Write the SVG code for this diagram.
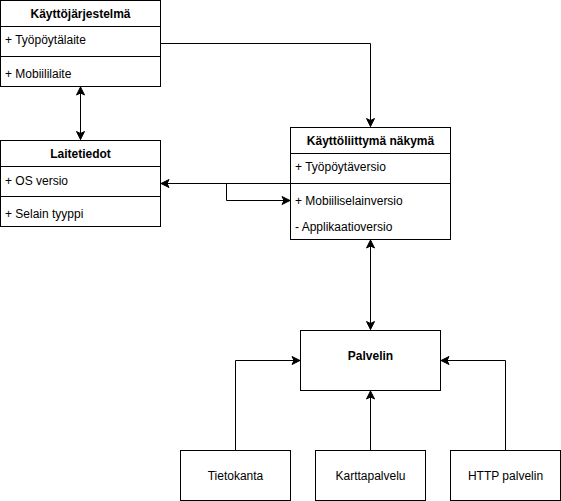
<svg xmlns="http://www.w3.org/2000/svg" width="561" height="501" viewBox="0 0 561 501">
<style>
.box{fill:#fff;stroke:#000;stroke-width:1}
.ln{fill:none;stroke:#000;stroke-width:1}
.t{font-family:"Liberation Sans",Arial,sans-serif;font-size:12px;fill:#000}
.b{font-weight:bold;text-anchor:middle}
.c{text-anchor:middle}
.e{fill:none;stroke:#000;stroke-width:1}
</style>
<defs>
<marker id="a" viewBox="-1 -5 11 10" refX="8" refY="0" markerWidth="11" markerHeight="10" markerUnits="userSpaceOnUse" orient="auto-start-reverse">
<path d="M0,-4 L8,0 L0,4 L2,0 Z" fill="#000" stroke="#000" stroke-width="1"/>
</marker>
</defs>
<rect width="561" height="501" fill="#fff"/>
<g id="connectors">
<path class="e" d="M80.5,87 V139.5" marker-start="url(#a)" marker-end="url(#a)"/>
<path class="e" d="M160.5,43.5 H370.5 V126.5" marker-end="url(#a)"/>
<path class="e" d="M290.5,183.5 H161" marker-end="url(#a)"/>
<path class="e" d="M160.5,183.5 H226.5 V200.5 H290" marker-end="url(#a)"/>
<path class="e" d="M370.5,240 V329.5" marker-start="url(#a)" marker-end="url(#a)"/>
<path class="e" d="M235.5,450 V360.5 H300" marker-end="url(#a)"/>
<path class="e" d="M370.5,450 V391" marker-end="url(#a)"/>
<path class="e" d="M505.5,450 V360.5 H441" marker-end="url(#a)"/>
</g>
<g id="kayttojarjestelma">
<rect class="box" x="0.5" y="0.5" width="160" height="86"/>
<path class="ln" d="M0.5,26.5 H160.5 M0.5,56.5 H160.5"/>
<text class="t b" x="80.5" y="17.5">Käyttöjärjestelmä</text>
<text class="t" x="5" y="44">+ Työpöytälaite</text>
<text class="t" x="5" y="78">+ Mobiililaite</text>
</g>
<g id="laitetiedot">
<rect class="box" x="0.5" y="140.5" width="160" height="86"/>
<path class="ln" d="M0.5,166.5 H160.5 M0.5,196.5 H160.5"/>
<text class="t b" x="80.5" y="158">Laitetiedot</text>
<text class="t" x="5" y="185">+ OS versio</text>
<text class="t" x="5" y="218">+ Selain tyyppi</text>
</g>
<g id="kayttoliittyma">
<rect class="box" x="290.5" y="127.5" width="160" height="112"/>
<path class="ln" d="M290.5,153.5 H450.5 M290.5,183.5 H450.5"/>
<text class="t b" x="370.5" y="145">Käyttöliittymä näkymä</text>
<text class="t" x="295" y="171">+ Työpöytäversio</text>
<text class="t" x="295" y="205">+ Mobiiliselainversio</text>
<text class="t" x="295" y="231">- Applikaatioversio</text>
</g>
<g id="palvelin">
<rect class="box" x="300.5" y="330.5" width="140" height="60"/>
<text class="t b" x="370.5" y="360">Palvelin</text>
</g>
<g id="tietokanta">
<rect class="box" x="180.5" y="450.5" width="110" height="50"/>
<text class="t c" x="235.5" y="480">Tietokanta</text>
</g>
<g id="karttapalvelu">
<rect class="box" x="315.5" y="450.5" width="110" height="50"/>
<text class="t c" x="370.5" y="480">Karttapalvelu</text>
</g>
<g id="http">
<rect class="box" x="450.5" y="450.5" width="110" height="50"/>
<text class="t c" x="505.5" y="480">HTTP palvelin</text>
</g>
</svg>
